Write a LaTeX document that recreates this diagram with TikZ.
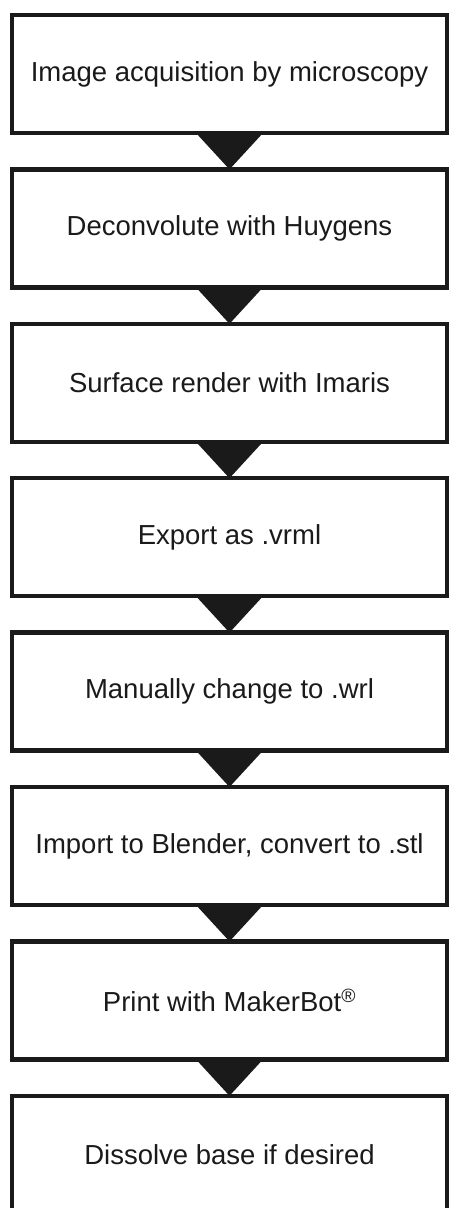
\documentclass[tikz,border=0pt]{standalone}
\usepackage{fontspec}
\setmainfont{Liberation Sans}
\usetikzlibrary{calc}
\definecolor{boxblack}{HTML}{1A1A1A}

\begin{document}
\begin{tikzpicture}[x=1pt, y=-1pt,
    stepbox/.style={draw=boxblack, text=boxblack, line width=4.5pt,
        minimum width=435pt, minimum height=118pt, inner sep=0pt, outer sep=0pt,
        font=\fontsize{27.5}{32}\selectfont},
    wedge/.style={fill=boxblack}]
    \useasboundingbox (0,0) rectangle (450,1208);

    \foreach \i/\txt in {1/{Image acquisition by microscopy},
                         2/{Deconvolute with Huygens},
                         3/{Surface render with Imaris},
                         4/{Export as .vrml},
                         5/{Manually change to .wrl},
                         6/{Import to Blender, convert to .stl},
                         7/{Print with MakerBot\textsuperscript{®}},
                         8/{Dissolve base if desired}}
        \node[stepbox] (s\i) at (229.5, {74+(\i-1)*154.4}) {\txt};

%    \draw[boxblack, line width=4.5pt, ->] (s1) -- (s2);

    \foreach \i [evaluate=\i as \j using int(\i+1)] in {1,...,7}
        \fill[wedge] ($(s\i.south)+(-33.5,0)$) -- ($(s\i.south)+(33.5,0)$) -- (s\j.north) -- cycle;

\end{tikzpicture}
\end{document}
